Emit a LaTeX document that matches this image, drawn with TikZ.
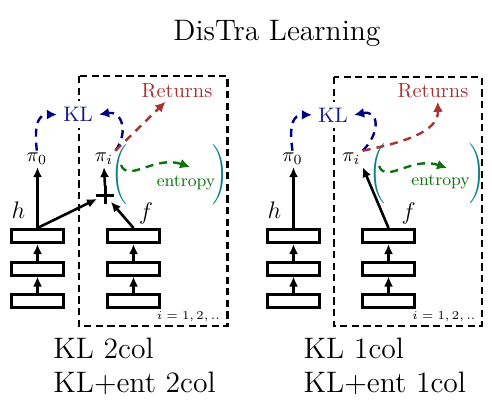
\documentclass[tikz,border=0pt]{standalone}
\usetikzlibrary{arrows.meta}
\definecolor{klnavy}{rgb}{0.1,0.1,0.55}
\definecolor{arrnavy}{rgb}{0,0,0.5}
\definecolor{retred}{rgb}{0.66,0.2,0.2}
\definecolor{entgreen}{rgb}{0.05,0.45,0.05}
\definecolor{parteal}{rgb}{0.05,0.5,0.55}
\begin{document}
\begin{tikzpicture}[x=0.5pt,y=-0.5pt,
  netbox/.style={draw,line width=1.5pt,fill=white,inner sep=0pt,minimum width=26pt,minimum height=6.5pt},
  blk/.style={line width=1.3pt,-{Latex[length=5pt,width=4.5pt]}},
  dsh/.style={line width=1.2pt,dash pattern=on 4pt off 3pt,-{Latex[length=5pt,width=5pt]}},
  framebox/.style={line width=1.3pt,dash pattern=on 3.6pt off 2.2pt},
  pilbl/.style={inner sep=1pt,anchor=base,font=\fontsize{10}{12}\selectfont},
  varlbl/.style={inner sep=0pt,anchor=base,font=\fontsize{11.5}{13}\selectfont},
  kllbl/.style={inner sep=3pt,anchor=base,fill=white,text=klnavy,font=\fontsize{10.5}{12}\selectfont},
  retlbl/.style={inner sep=2pt,anchor=base,text=retred,font=\fontsize{10.2}{12}\selectfont},
  entlbl/.style={inner sep=0pt,anchor=base,text=entgreen,font=\fontsize{8.6}{10}\selectfont},
  parlbl/.style={inner sep=0pt,text=parteal,font=\fontsize{10}{12}\selectfont},
  idxlbl/.style={inner sep=0pt,anchor=base,font=\fontsize{6}{7}\selectfont},
  biglbl/.style={inner sep=0pt,anchor=base west,font=\fontsize{14.8}{18}\selectfont},
  plusnode/.style={circle,minimum size=8.5pt,inner sep=0pt},
  plusbar/.style={line width=1.5pt},
  greendash/.style={dsh,draw=entgreen},
  bluedash/.style={dsh,draw=arrnavy},
  reddash/.style={dsh,draw=retred}]
\useasboundingbox (0,0) rectangle (492,412);
\fill[white] (0,0) rectangle (492,412);

% title
\node[biglbl] (title) at (173,40.7) {DisTra Learning};

% ================= left panel =================
\draw[framebox] (79,76) rectangle (227.5,326);
\node[netbox] (aL1) at (37.5,236) {};
\node[netbox] (aL2) at (37.5,268.5) {};
\node[netbox] (aL3) at (37.5,301) {};
\node[netbox] (aR1) at (133.5,236) {};
\node[netbox] (aR2) at (133.5,268.5) {};
\node[netbox] (aR3) at (133.5,301) {};
\draw[blk] (aL3.north) -- (aL2.south);
\draw[blk] (aL2.north) -- (aL1.south);
\draw[blk] (aR3.north) -- (aR2.south);
\draw[blk] (aR2.north) -- (aR1.south);
\node[varlbl] (ah) at (18.3,218.3) {$h$};
\node[varlbl] (af) at (146,219.3) {$f$};
\node[pilbl] (api0) at (36.8,161.7) {$\pi_0$};
\node[pilbl] (apii) at (104,161.7) {$\pi_i$};
\node[plusnode] (aplus) at (105,195) {};
\draw[plusbar] (aplus.west) -- (aplus.east) (aplus.north) -- (aplus.south);
\draw[blk] (aL1.north) -- (aL1.north |- api0.south);
\draw[blk] (aL1.north) -- (aplus);
\draw[blk] (aR1.north) -- (aplus);
\draw[blk] (aplus.north) -- (apii.south);
\node[kllbl] (aKL) at (78,121.7) {KL};
\node[retlbl] (aret) at (177,97) {Returns};
\node[parlbl] (alp) at (119,175) {$\Bigg($};
\node[parlbl] (arp) at (220,175) {$\Bigg)$};
\node[entlbl] (aent) at (186,186) {entropy};
\node[idxlbl] (aidx) at (188.5,319.3) {$i = 1, 2, ..$};
\draw[bluedash] (api0.north) .. controls +(-3,-28) and +(-18,0) .. (aKL.west);
\draw[bluedash] (apii.north east) .. controls +(14,-20) and +(22,-4) .. (aKL.east);
\draw[reddash] (apii.north east) -- (aret.225);
\coordinate (ags) at (121,165);
\coordinate (age) at (190,167);
\draw[greendash] (ags) .. controls +(7,18) and +(-35,-12) .. (age);

% ================= right panel =================
\draw[framebox] (334,77) rectangle (482,326);
\node[netbox] (bL1) at (293.5,236) {};
\node[netbox] (bL2) at (293.5,268.5) {};
\node[netbox] (bL3) at (293.5,301) {};
\node[netbox] (bR1) at (388.5,236) {};
\node[netbox] (bR2) at (388.5,268.5) {};
\node[netbox] (bR3) at (388.5,301) {};
\draw[blk] (bL3.north) -- (bL2.south);
\draw[blk] (bL2.north) -- (bL1.south);
\draw[blk] (bR3.north) -- (bR2.south);
\draw[blk] (bR2.north) -- (bR1.south);
\node[varlbl] (bh) at (274.3,218.3) {$h$};
\node[varlbl] (bf) at (408.7,219) {$f$};
\node[pilbl] (bpi0) at (292.5,161.7) {$\pi_0$};
\node[pilbl] (bpii) at (351.3,161.7) {$\pi_i$};
\draw[blk] (bL1.north) -- (bL1.north |- bpi0.south);
\draw[blk] (bR1.north) -- (bpii.south east);
\node[kllbl] (bKL) at (333,122) {KL};
\node[retlbl] (bret) at (433,97) {Returns};
\node[parlbl] (blp) at (377,173.5) {$\Bigg($};
\node[parlbl] (brp) at (477,173.5) {$\Bigg)$};
\node[entlbl] (bent) at (440.5,185) {entropy};
\node[idxlbl] (bidx) at (444,319.3) {$i = 1, 2, ..$};
\draw[bluedash] (bpi0.north) .. controls +(-4,-28) and +(-18,0) .. (bKL.west);
\draw[bluedash] (bpii.north east) .. controls +(18,-18) and +(25,-5) .. (bKL.east);
\draw[reddash] (bpii.north east) .. controls +(40,-8) and +(1,30) .. (bret.292);
\coordinate (bgs) at (379,166);
\coordinate (bge) at (447,168);
\draw[greendash] (bgs) .. controls +(7,18) and +(-35,-12) .. (bge);

% bottom captions
\node[biglbl] (c1) at (53,358) {KL 2col};
\node[biglbl] (c2) at (53,392) {KL+ent 2col};
\node[biglbl] (c3) at (303.3,358) {KL 1col};
\node[biglbl] (c4) at (303.3,392) {KL+ent 1col};
\end{tikzpicture}
\end{document}
